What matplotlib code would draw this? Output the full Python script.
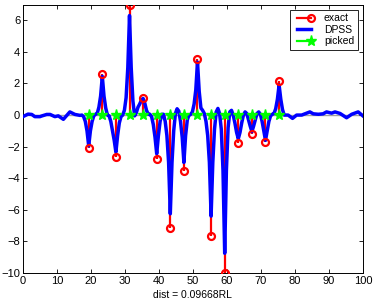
import matplotlib
matplotlib.use("Agg")
import matplotlib.pyplot as plt
from matplotlib.lines import Line2D
from matplotlib.legend_handler import HandlerLine2D

plt.rcParams['font.family'] = ['Liberation Sans', 'DejaVu Sans']

# picked positions and exact values (stems)
pick_x = [19.35, 23.35, 27.35, 31.35, 35.35, 39.35, 43.35, 47.35,
          51.35, 55.35, 59.35, 63.35, 67.35, 71.35, 75.35]
exact_y = [-2.1, 2.6, -2.63, 7.0, 1.05, -2.75, -7.15, -3.55,
           3.52, -7.68, -10.0, -1.78, -1.17, -1.73, 2.15]
picked_y = [0.0] * 15

# DPSS curve: quiet part on the left
dpss_left_x = [0, 1.5, 2.6, 3.5, 5.0, 5.5, 7.0, 8.0, 9.4, 10.4, 11.9, 13.8, 15.3, 16.8]
dpss_left_y = [-0.1, 0.06, 0.04, -0.1, -0.1, -0.06, 0.04, 0.04, -0.1, -0.05, -0.27, 0.2, 0.04, -0.02]

# DPSS curve: active part, every half unit from 17.35 to 77.35
dpss_mid_x = [17.35, 17.85, 18.35, 18.85, 19.35, 19.85, 20.35, 20.85,
              21.35, 21.85, 22.35, 22.85, 23.35, 23.85, 24.35, 24.85,
              25.35, 25.85, 26.35, 26.85, 27.35, 27.85, 28.35, 28.85,
              29.35, 29.85, 30.35, 30.85, 31.35, 31.85, 32.35, 32.85,
              33.35, 33.85, 34.35, 34.85, 35.35, 35.85, 36.35, 36.85,
              37.35, 37.85, 38.35, 38.85, 39.35, 39.85, 40.35, 40.85,
              41.35, 41.85, 42.35, 42.85, 43.35, 43.85, 44.35, 44.85,
              45.35, 45.85, 46.35, 46.85, 47.35, 47.85, 48.35, 48.85,
              49.35, 49.85, 50.35, 50.85, 51.35, 51.85, 52.35, 52.85,
              53.35, 53.85, 54.35, 54.85, 55.35, 55.85, 56.35, 56.85,
              57.35, 57.85, 58.35, 58.85, 59.35, 59.85, 60.35, 60.85,
              61.35, 61.85, 62.35, 62.85, 63.35, 63.85, 64.35, 64.85,
              65.35, 65.85, 66.35, 66.85, 67.35, 67.85, 68.35, 68.85,
              69.35, 69.85, 70.35, 70.85, 71.35, 71.85, 72.35, 72.85,
              73.35, 73.85, 74.35, 74.85, 75.35, 75.85, 76.35, 76.85, 77.35]
dpss_mid_y = [0.0, -0.1, -0.4, -1.0, -1.95, -1.0, -0.4, -0.05,
              0.05, 0.1, 0.5, 1.2, 2.45, 1.2, 0.45, 0.0,
              -0.05, -0.4, -1.0, -1.6, -2.35, -1.3, -0.5, -0.1,
              0.0, 0.3, 1.1, 3.0, 6.3, 3.0, 0.9, -0.05,
              0.15, 0.5, 0.7, 0.95, 1.05, 0.75, 0.3, 0.05,
              0.05, -0.1, -0.6, -1.4, -2.45, -1.3, -0.4, 0.05,
              0.05, -0.4, -1.3, -3.0, -6.25, -3.0, -1.0, 0.1,
              0.4, 0.25, -0.4, -1.4, -3.0, -1.3, -0.3, 0.0,
              0.05, 0.2, 0.7, 1.6, 3.35, 1.5, 0.45, 0.3,
              0.1, -0.4, -1.3, -3.0, -6.4, -3.0, -0.9, 0.2,
              0.42, 0.1, -0.9, -3.5, -8.75, -3.5, -0.8, 0.2,
              0.3, 0.0, -0.5, -1.1, -1.5, -1.1, -0.5, 0.0,
              0.2, 0.1, -0.3, -0.7, -1.05, -0.7, -0.3, 0.1,
              0.2, 0.05, -0.4, -1.0, -1.6, -1.0, -0.4, -0.05,
              0.05, 0.1, 0.4, 1.0, 1.9, 1.0, 0.35, 0.0, 0.0]

# DPSS curve: quiet part on the right
dpss_right_x = [78.0, 79.3, 80.5, 82.0, 84.4, 85.4, 86.9, 88.3, 89.3, 90.8, 91.8, 93.3, 95.2, 96.7, 98.6, 100.0]
dpss_right_y = [0.0, -0.21, 0.0, 0.0, 0.2, 0.08, 0.05, 0.08, 0.2, 0.12, 0.2, 0.1, -0.17, 0.05, 0.2, -0.05]

dpss_x = dpss_left_x + dpss_mid_x + dpss_right_x
dpss_y = dpss_left_y + dpss_mid_y + dpss_right_y


class MarkerAtEnd(HandlerLine2D):
    # matlab style legend: marker only at the right end of the line
    def create_artists(self, *args, **kwargs):
        arts = super().create_artists(*args, **kwargs)
        for a in arts:
            n = len(a.get_xdata())
            a.set_markevery([n - 1])
        return arts


fig = plt.figure(figsize=(3.82, 3.01), dpi=100)
ax = fig.add_axes([0.060, 0.093, 0.890, 0.892])

# gray baseline of the stem plot
ax.plot([0, 100], [0, 0], color='#a0a0a0', lw=1.0, zorder=1)

# exact: red stems with open circles
ax.vlines(pick_x, 0, exact_y, color='red', lw=1.6, zorder=2)
ax.plot(pick_x, exact_y, 'o', mfc='none', mec='red', mew=1.6, ms=5, zorder=4)

# DPSS curve
ax.plot(dpss_x, dpss_y, color='blue', lw=2.5, zorder=3)

# picked
ax.plot(pick_x, picked_y, '*', color='#00ff00', ms=8, mec='#00ff00', zorder=5)

ax.set_xlim(0, 100)
ax.set_ylim(-10, 7)
ax.set_xticks(range(0, 101, 10))
ax.set_yticks(range(-10, 7, 2))
ax.tick_params(direction='in', top=True, right=True, labelsize=8, length=3, width=0.6, pad=2)
for s in ax.spines.values():
    s.set_linewidth(0.7)
ax.set_xlabel('dist = 0.09668RL', fontsize=7.5, labelpad=3)

h_exact = Line2D([0, 1], [0, 0], color='red', lw=1.6, marker='o', mfc='none', mec='red', mew=1.6, ms=5)
h_dpss = Line2D([0, 1], [0, 0], color='blue', lw=2.5)
h_pick = Line2D([0, 1], [0, 0], color='#00ff00', lw=1.6, marker='*', ms=8)
leg = ax.legend([h_exact, h_dpss, h_pick], ['exact', 'DPSS', 'picked'], loc='upper right',
                fontsize=7.5, numpoints=2, handlelength=2.0, handletextpad=0.9,
                borderaxespad=0.5, borderpad=0.35, labelspacing=0.15, fancybox=False,
                edgecolor='black', framealpha=1,
                handler_map={Line2D: MarkerAtEnd()})
leg.get_frame().set_linewidth(0.6)

fig.savefig('out.png', dpi=100)
